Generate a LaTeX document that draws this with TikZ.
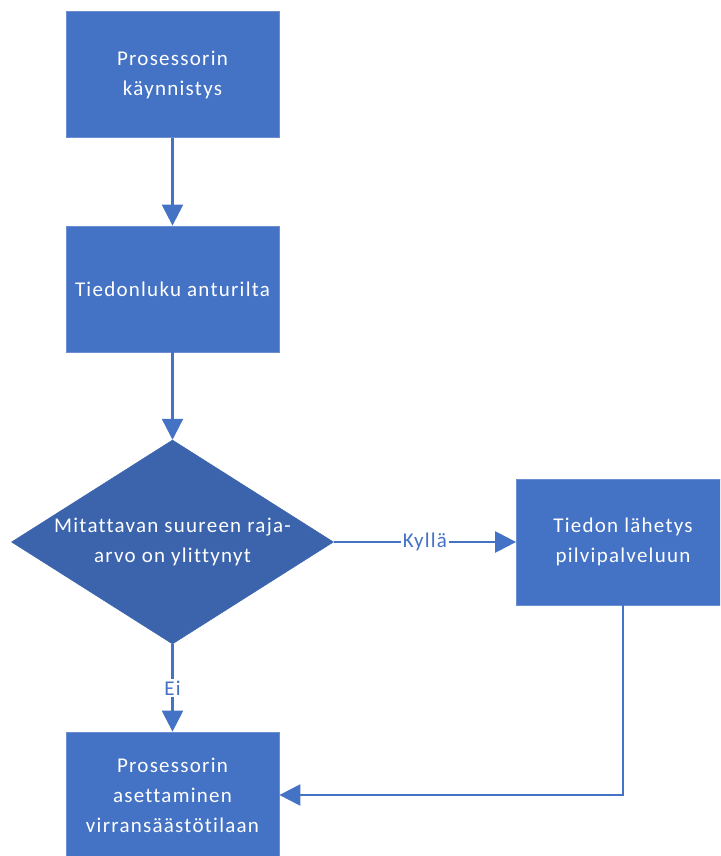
\documentclass[tikz,border=0pt]{standalone}
\usepackage{fontspec}
\setmainfont[LetterSpace=6,Ligatures={NoCommon}]{Carlito}
\usetikzlibrary{arrows.meta,shapes.geometric}
\definecolor{boxblue}{HTML}{4472C4}
\definecolor{diablue}{HTML}{3B64AD}
\definecolor{edgeblue}{HTML}{6A8ED0}
\definecolor{lineblue}{HTML}{4472C4}
\tikzset{
  procbox/.style={rectangle, fill=boxblue, draw=edgeblue, line width=0.8pt,
    minimum width=213pt, minimum height=126pt, inner sep=0pt, align=center,
    text=white, font=\fontsize{21}{30}\selectfont},
  decbox/.style={diamond, aspect=1.58, fill=diablue, draw=diablue, line width=0.5pt,
    minimum width=322pt, minimum height=204pt, inner sep=0pt, align=center,
    text=white, font=\fontsize{21}{30}\selectfont},
  conn/.style={draw=lineblue, line width=2.4pt, -{Triangle[length=21pt,width=21pt]}},
  lbl/.style={fill=white, inner sep=1.5pt, text=lineblue, font=\fontsize{21}{30}\selectfont}
}
\begin{document}
\begin{tikzpicture}[x=1pt,y=-1pt]
\useasboundingbox (0,0) rectangle (720,856);
\clip (0,0) rectangle (720,856);
\fill[white] (0,0) rectangle (720,856);
\node[procbox] (b1) at (172.5,74.5) {Prosessorin\\käynnistys};
\node[procbox] (b2) at (172.5,289) {Tiedonluku anturilta};
\node[decbox] (d) at (172.5,542) {Mitattavan suureen raja-\\arvo on ylittynyt};
\node[procbox] (b3) at (623,542) {Tiedon lähetys\\pilvipalveluun};
\node[procbox] (b4) at (172.5,795) {Prosessorin\\asettaminen\\virransäästötilaan};
\coordinate (c1) at (b3.south |- b4.east);
\draw[conn] (b1) -- (b2);
\draw[conn] (b2) -- (d.north);
\draw[conn] (d.east) -- node[lbl] {Kyllä} (b3.west);
\draw[conn] (d.south) -- node[lbl] {Ei} (b4.north);
\draw[conn] (b3.south) -- (c1) -- (b4.east);
\end{tikzpicture}
\end{document}
